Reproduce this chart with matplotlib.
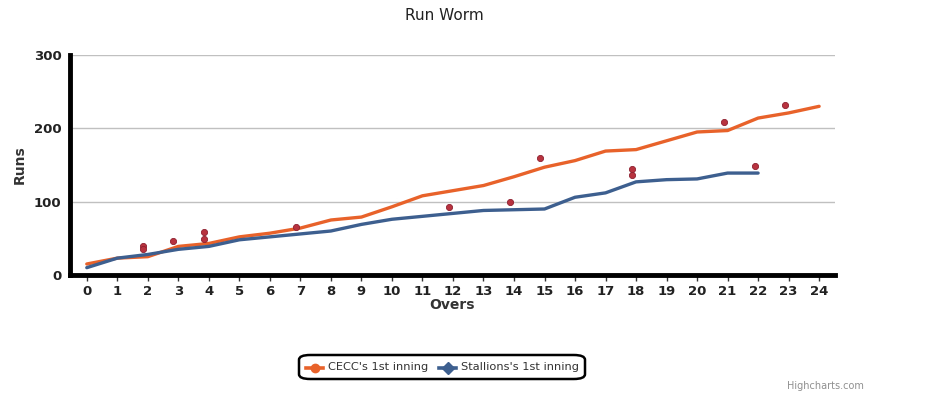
import matplotlib
matplotlib.use("Agg")
import matplotlib.pyplot as plt
from matplotlib.patches import FancyBboxPatch
from matplotlib.lines import Line2D

overs = list(range(25))
cecc = [15, 23, 25, 39, 43, 52, 57, 64, 75, 79, 93, 108, 115, 122, 134, 147, 156, 169, 171, 183, 195, 197, 214, 221, 230]
stallions_overs = list(range(23))
stallions = [10, 23, 28, 35, 39, 48, 52, 56, 60, 69, 76, 80, 84, 88, 89, 90, 106, 112, 127, 130, 131, 139, 139]
wicket_x = [1.83, 1.83, 2.82, 3.84, 3.84, 6.85, 11.86, 13.87, 14.85, 17.87, 17.87, 20.87, 21.89, 22.89]
wicket_y = [39, 35, 47, 58, 49, 66, 93, 99, 159, 145, 137, 208, 149, 232]
yticks = [0, 100, 200, 300]

ORANGE = "#E8622A"
BLUE = "#3D5F8F"
W, H = 939, 395
fig = plt.figure(figsize=(W / 100, H / 100), dpi=100)
ax = fig.add_axes([70 / W, 1 - 275 / H, (835 - 70) / W, (275 - 55) / H])

ax.plot(overs, cecc, color=ORANGE, lw=2.4, solid_capstyle="round", zorder=3)
ax.plot(stallions_overs, stallions, color=BLUE, lw=2.4, solid_capstyle="round", zorder=3)
ax.scatter(wicket_x, wicket_y, s=20, color="#B8333F", edgecolors="#8E2030", linewidths=0.6, zorder=4)

ax.set_xlim(-0.55, 24.52)
ax.set_ylim(0, 300)
ax.set_yticks(yticks)
ax.set_xticks(overs)
ax.yaxis.grid(True, color="#C0C0C0", lw=1)
ax.set_axisbelow(True)
for s in ["top", "right"]:
    ax.spines[s].set_visible(False)
ax.spines["left"].set_linewidth(3.5)
ax.spines["bottom"].set_linewidth(3.5)
ax.spines["left"].set_color("black")
ax.spines["bottom"].set_color("black")
ax.tick_params(axis="y", length=0, pad=6, labelsize=9.5, labelcolor="#222222")
ax.tick_params(axis="x", length=4, width=1, color="#333333", direction="out", pad=3, labelsize=9.5, labelcolor="#222222")
for lab in ax.get_xticklabels() + ax.get_yticklabels():
    lab.set_fontweight("bold")
ax.set_xlabel("Overs", fontsize=10, fontweight="bold", color="#333333", labelpad=0)
ax.set_ylabel("Runs", fontsize=10, fontweight="bold", color="#333333", labelpad=5)

fig.text(444 / W, 1 - 15 / H, "Run Worm", ha="center", va="center", fontsize=11, color="#222222")

# legend box
box = FancyBboxPatch((299 / W, 1 - 379 / H), (585 - 299) / W, (379 - 355) / H,
                     boxstyle="round,pad=0,rounding_size=0.012", transform=fig.transFigure,
                     facecolor="white", edgecolor="black", lw=1.8, zorder=5)
fig.patches.append(box)
def legend_item(x0, color, marker, label):
    y = 1 - 367.5 / H
    fig.lines.append(Line2D([x0 / W, (x0 + 17) / W], [y, y], transform=fig.transFigure,
                            color=color, lw=2.6, marker=None, zorder=6))
    fig.lines.append(Line2D([(x0 + 8.5) / W], [y], transform=fig.transFigure,
                            color=color, marker=marker, markersize=6 if marker == "o" else 6.5, lw=0, zorder=7))
    fig.text((x0 + 22) / W, y, label, ha="left", va="center", fontsize=8.2, color="#333333", zorder=7)
legend_item(306, ORANGE, "o", "CECC's 1st inning")
legend_item(439, BLUE, "D", "Stallions's 1st inning")

fig.text(864 / W, 1 - 386 / H, "Highcharts.com", ha="right", va="center", fontsize=7, color="#909090")

fig.savefig("out.png", dpi=100)
